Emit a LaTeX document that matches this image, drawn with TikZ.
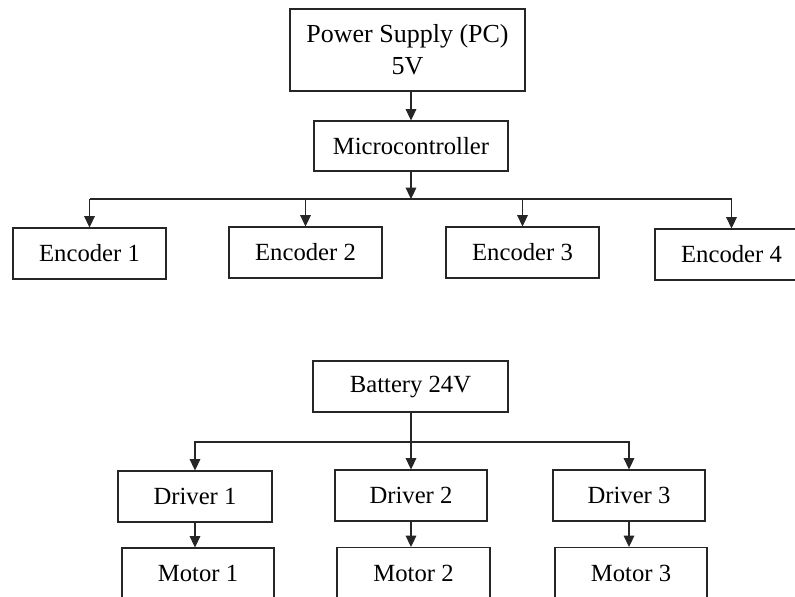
\documentclass[tikz,border=0pt]{standalone}
\usepackage{fontspec}
\setmainfont{Liberation Serif}
\usetikzlibrary{arrows.meta}
\begin{document}
\begin{tikzpicture}[x=0.75pt,y=-0.75pt,
  blk/.style={draw=black!85,line width=0.8pt,inner sep=0pt,minimum height=51*0.75pt,
    font=\fontsize{18.5}{23.5}\selectfont,align=center},
  arr/.style={draw=black!85,line width=0.8pt,-{Triangle[width=8pt,length=8.5pt]}},
  ln/.style={draw=black!85,line width=0.8pt}]
\useasboundingbox (0,0) rectangle (795,596);
\clip (0,0) rectangle (795,596);
\node[blk,minimum width=235*0.75pt,minimum height=82*0.75pt,font=\fontsize{19.5}{24}\selectfont] (ps) at (407.5,50) {Power Supply (PC)\\5V};
\node[blk,minimum width=194*0.75pt,minimum height=50*0.75pt] (mc) at (411,146) {Microcontroller};
\node[blk,minimum width=153*0.75pt] (e1) at (89.5,253.5) {Encoder 1};
\node[blk,minimum width=153*0.75pt] (e2) at (305.5,252.5) {Encoder 2};
\node[blk,minimum width=153*0.75pt] (e3) at (522.5,252.5) {Encoder 3};
\node[blk,minimum width=153*0.75pt] (e4) at (731.5,254.5) {Encoder 4};
\coordinate (busE) at (411,199);
\draw[arr] (ps.south -| mc.north) -- (mc.north);
\draw[arr] (mc.south) -- (busE);
\draw[ln] (e1.north |- busE) -- (e4.north |- busE);
\draw[arr] (busE -| e1.north) -- (e1.north);
\draw[arr] (busE -| e2.north) -- (e2.north);
\draw[arr] (busE -| e3.north) -- (e3.north);
\draw[arr] (busE -| e4.north) -- (e4.north);
\node[blk,minimum width=195*0.75pt] (bat) at (410.5,386.5) {Battery 24V};
\node[blk,minimum width=154*0.75pt] (d1) at (195,496.5) {Driver 1};
\node[blk,minimum width=152*0.75pt] (d2) at (411,495.5) {Driver 2};
\node[blk,minimum width=152*0.75pt] (d3) at (629,495.5) {Driver 3};
\node[blk,minimum width=152*0.75pt] (m1) at (198,573.5) {Motor 1};
\node[blk,minimum width=153*0.75pt] (m2) at (413.5,573) {Motor 2};
\node[blk,minimum width=152*0.75pt] (m3) at (631,573) {Motor 3};
\coordinate (busB) at (410,442);
\draw[arr] (bat.south -| d2.north) -- (d2.north);
\draw[arr] (busB) -| (d1.north);
\draw[arr] (busB) -| (d3.north);
\draw[arr] (d1.south) -- (d1.south |- m1.north);
\draw[arr] (d2.south) -- (d2.south |- m2.north);
\draw[arr] (d3.south) -- (d3.south |- m3.north);
\end{tikzpicture}
\end{document}
